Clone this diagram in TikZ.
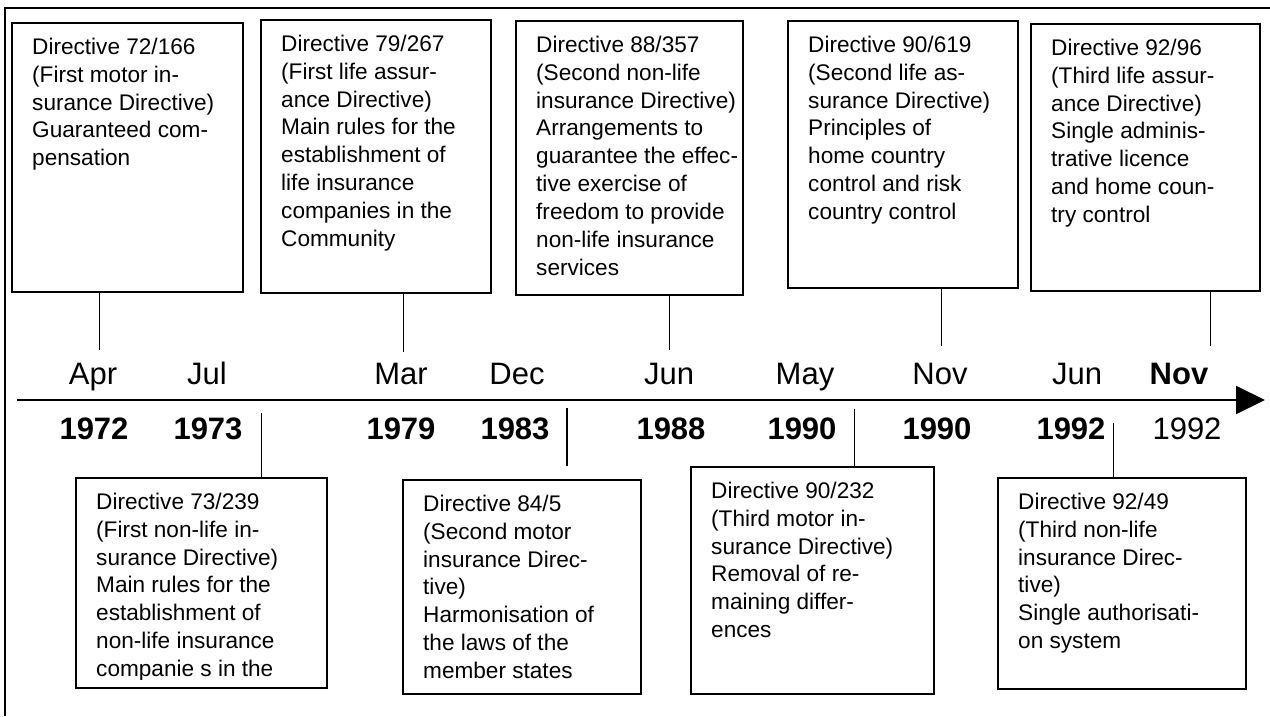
\documentclass[tikz,border=0pt]{standalone}
\usepackage{fontspec}
\setmainfont{Liberation Sans}
\usetikzlibrary{calc,arrows.meta}
\tikzstyle{outline}=[line width=1.6pt]
\tikzstyle{dirbox}=[draw,line width=1.6pt,inner sep=0pt]
\tikzstyle{dirtext}=[anchor=north west,inner sep=0pt,align=left,font=\fontsize{22.6}{27.9}\selectfont]
\tikzstyle{tick}=[line width=1pt]
\tikzstyle{month}=[anchor=base,inner sep=0pt,font=\fontsize{31}{31}\selectfont]
\tikzstyle{year}=[month,font=\fontsize{31}{31}\selectfont\bfseries]
\tikzstyle{axis}=[line width=2pt,-{Triangle[length=29pt,width=28pt]}]
\newcommand*{\directive}[6]{
  \node[dirbox,minimum width=#4,minimum height=#5,anchor=north west] (#1) at (#2,#3) {};
  \begin{scope}
    \clip (#1.north west) rectangle ($(#1.south east)+(0,-9)$);
    \node[dirtext] (#1t) at ($(#1.north west)+(21,12.5)$) {\strut#6};
  \end{scope}
}
\newcommand*{\when}[5]{
  \node[month] (m#1) at (#2,384) {#3};
  \node[year] (y#1) at (#4,439) {#5};
}

\begin{document}
\begin{tikzpicture}[x=1pt,y=-1pt]
  \useasboundingbox (0,0) rectangle (1270,716);
  \draw[outline] (1270,8) -- (5,8) -- (5,716);
  % time axis
  \coordinate (ax0) at (17,400);
  \coordinate (ax1) at (1265,400);
  \draw[axis] (ax0) -- (ax1);
  \when{1}{93}{Apr}{94}{1972}
  \when{2}{207}{Jul}{208}{1973}
  \when{3}{401}{Mar}{401}{1979}
  \when{4}{517}{Dec}{515}{1983}
  \when{5}{669}{Jun}{671}{1988}
  \when{6}{805}{May}{802}{1990}
  \when{7}{940}{Nov}{937}{1990}
  \when{8}{1077}{Jun}{1071}{1992}
  \when{9}{1179}{\bfseries Nov}{1187}{\mdseries 1992}
  % upper row
  \directive{b1}{11}{22}{231}{269}{Directive 72/166\\(First motor in-\\surance Directive)\\Guaranteed com-\\pensation}
  \directive{b2}{260}{19}{230}{273}{Directive 79/267\\(First life assur-\\ance Directive)\\Main rules for the\\establishment of\\life insurance\\companies in the\\Community}
  \directive{b3}{515}{20}{227}{274}{Directive 88/357\\(Second non-life\\insurance Directive)\\Arrangements to\\guarantee the effec-\\tive exercise of\\freedom to provide\\non-life insurance\\services}
  \directive{b4}{787}{20}{230}{267}{Directive 90/619\\(Second life as-\\surance Directive)\\Principles of\\home country\\control and risk\\country control}
  \directive{b5}{1030}{23}{229}{267}{Directive 92/96\\(Third life assur-\\ance Directive)\\Single adminis-\\trative licence\\and home coun-\\try control}
  % lower row
  \directive{c1}{75}{477}{251}{210}{Directive 73/239\\(First non-life in-\\surance Directive)\\Main rules for the\\establishment of\\non-life insurance\\companie s in the}
  \directive{c2}{402}{479}{238}{214}{Directive 84/5\\(Second motor\\insurance Direc-\\tive)\\Harmonisation of\\the laws of the\\member states}
  \directive{c3}{690}{466}{243}{227}{Directive 90/232\\(Third motor in-\\surance Directive)\\Removal of re-\\maining differ-\\ences}
  \directive{c4}{997}{477}{248}{211}{Directive 92/49\\(Third non-life\\insurance Direc-\\tive)\\Single authorisati-\\on system}
  % leaders
  \foreach \b/\x/\y in {b1/99/350,b2/403/352,b3/669/350,b4/941/346,b5/1210/346} {
    \coordinate (k\b) at (\x,\y);
    \draw[tick] (k\b) -- (k\b |- \b.south);
  }
  \foreach \c/\x/\y in {c1/261/413,c3/854/409,c4/1113/423} {
    \coordinate (k\c) at (\x,\y);
    \draw[tick] (k\c) -- (k\c |- \c.north);
  }
  \coordinate (d1) at (567,408);
  \coordinate (d2) at (567,466);
  \draw[tick,line width=1.6pt] (d1) -- (d2);
\end{tikzpicture}
\end{document}
